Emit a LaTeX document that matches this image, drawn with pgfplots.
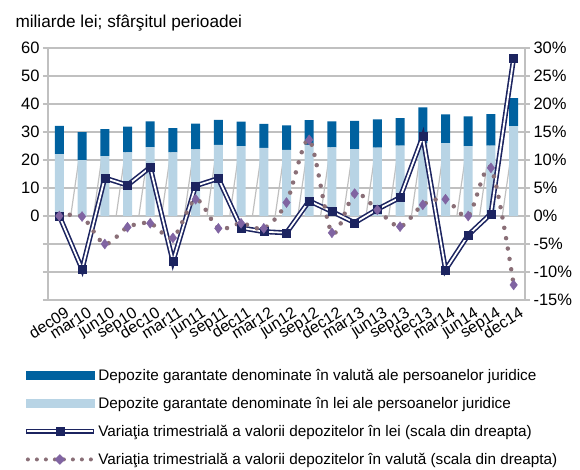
\documentclass[border=0pt]{standalone}
\usepackage{pgfplots}
\pgfplotsset{compat=1.18}
\usepackage{fontspec}
\setmainfont{Liberation Sans}

\definecolor{valuta}{HTML}{00619F}
\definecolor{lei}{HTML}{B8D4E5}
\definecolor{navyline}{HTML}{1C2460}
\definecolor{dotcol}{HTML}{8A6F77}
\definecolor{diam}{HTML}{8064A2}
\definecolor{gridc}{HTML}{C0C0C0}

\newcommand{\tickfont}{\fontsize{16.5}{18}\selectfont}

% categories: 0 = dec09 ... 20 = dec14
\pgfplotstableread{
x lei valuta
0  22.1 10.1
1  20.0 10.0
2  21.4  9.6
3  22.7  9.2
4  24.6  9.2
5  22.7  8.7
6  23.8  9.2
7  25.4  8.9
8  25.0  8.7
9  24.3  8.6
10 23.6  8.8
11 25.4  8.8
12 24.5  9.3
13 23.9 10.1
14 24.4 10.1
15 25.1  9.9
16 26.0 12.8
17 26.0 10.3
18 25.0 10.6
19 25.1 11.3
20 32.1 10.0
}\bardata

\pgfplotstableread{
x vlei vval
0   0.0   0.0
1  -9.5  -0.1
2   6.8  -5.0
3   5.5  -2.0
4   8.7  -1.3
5  -8.1  -3.9
6   5.4   3.0
7   6.7  -2.2
8  -2.1  -1.3
9  -2.8  -2.2
10 -3.0   2.4
11  2.7  13.6
12  0.8  -3.0
13 -1.2   4.0
14  1.2   1.1
15  3.3  -1.9
16 14.2   2.0
17 -9.6   3.0
18 -3.4   0.0
19  0.4   8.6
20 28.2 -12.3
}\vardata

\begin{document}
\begin{tikzpicture}
\pgfplotsset{
  base/.style={
    scale only axis, width=477pt, height=252pt,
    xmin=-0.5, xmax=20.5,
    tick label style={font=\tickfont},
    /pgf/number format/assume math mode=true,
    tick align=outside,
    major tick length=5pt,
  },
}
\begin{axis}[base, name=ax,
    ymin=-30, ymax=60,
    axis y line*=left, axis x line*=bottom,
    x axis line style={draw=none},
    y axis line style={gridc, line width=1.2pt},
    ytick={-30,-20,...,60},
    yticklabels={,,,0,10,20,30,40,50,60},
    ytick style={gridc, line width=1.2pt},
    ymajorgrids, grid style={gridc, line width=1.2pt},
    xtick={0,...,20},
    xticklabels={dec09,mar10,jun10,sep10,dec10,mar11,jun11,sep11,dec11,mar12,jun12,sep12,dec12,mar13,jun13,sep13,dec13,mar14,jun14,sep14,dec14},
    x tick style={draw=none},
    xticklabel style={font=\fontsize{16}{18}\selectfont, rotate=32, anchor=north east, inner sep=0.5pt, yshift=-3pt, xshift=4pt},
    ybar stacked, bar width=9pt,
  ]
  \addplot[fill=lei, draw=none] table[x=x, y=lei] {\bardata};
  \addplot[fill=valuta, draw=none] table[x=x, y=valuta] {\bardata};
  \draw[gridc, line width=1.2pt] (axis cs:-0.5,0) -- (axis cs:20.5,0);
  \pgfplotsinvokeforeach{0.5,1.5,...,19.5}{
    \draw[gridc, line width=1.2pt] (axis cs:#1,0) -- ++(0,-5pt);
  }
\end{axis}

\begin{axis}[base,
    ymin=-15, ymax=30,
    axis y line*=right, axis x line=none,
    y axis line style={gridc, line width=1.2pt},
    ytick style={gridc, line width=1.2pt},
    ytick={-15,-10,...,30},
    yticklabel={\pgfmathprintnumber{\tick}\%},
    legend cell align=left,
    legend style={at={(axis description cs:-0.052,-0.266)}, anchor=north west,
      draw=none, fill=none, font=\fontsize{15.3}{17}\selectfont,
      row sep=11.2pt, inner sep=0pt},
  ]
  \addlegendimage{legend image code/.code={\fill[valuta] (0pt,-4pt) rectangle (68pt,4pt);}}
  \addlegendentry{Depozite garantate denominate în valută ale persoanelor juridice}
  \addlegendimage{legend image code/.code={\fill[lei] (0pt,-4pt) rectangle (68pt,4pt);}}
  \addlegendentry{Depozite garantate denominate în lei ale persoanelor juridice}
  \addlegendimage{legend image code/.code={
    \draw[navyline, line width=5pt] (0pt,0pt) -- (68pt,0pt);
    \draw[white, line width=2pt] (1pt,0pt) -- (67pt,0pt);
    \fill[navyline] (30pt,-4pt) rectangle (38pt,4pt);}}
  \addlegendentry{Variaţia trimestrială a valorii depozitelor în lei (scala din dreapta)}
  \addlegendimage{legend image code/.code={
    \draw[dotcol, line width=4pt, line cap=round, dash pattern=on 0pt off 9pt] (2pt,0pt) -- (68pt,0pt);
    \fill[diam] (34pt,-5pt) -- (39pt,0pt) -- (34pt,5pt) -- (29pt,0pt) -- cycle;}}
  \addlegendentry{Variaţia trimestrială a valorii depozitelor în valută (scala din dreapta)}

  % double line for the lei variation
  \addplot[navyline, line width=5pt, no marks, forget plot] table[x=x, y=vlei] {\vardata};
  \addplot[white, line width=1.8pt, no marks, forget plot] table[x=x, y=vlei] {\vardata};
  \addplot[only marks, mark=square*, mark size=4pt, mark options={fill=navyline, draw=navyline}, forget plot]
    table[x=x, y=vlei] {\vardata};
  % dotted smooth line for valuta variation
  \addplot[dotcol, smooth, line width=4.5pt, line cap=round, dash pattern=on 0pt off 10.5pt, no marks, forget plot]
    table[x=x, y=vval] {\vardata};
  \addplot[only marks, mark=diamond*, mark size=5pt, mark options={fill=diam, draw=diam}, forget plot]
    table[x=x, y=vval] {\vardata};
\end{axis}

\node[anchor=base west, font=\fontsize{17.2}{19}\selectfont] at ([xshift=-36pt, yshift=21pt]ax.north west)
  {miliarde lei; sfârşitul perioadei};

\pgfresetboundingbox
\path ([xshift=-48pt, yshift=-169pt]ax.south west) rectangle ([xshift=532pt, yshift=48pt]ax.north west);
\end{tikzpicture}
\end{document}
